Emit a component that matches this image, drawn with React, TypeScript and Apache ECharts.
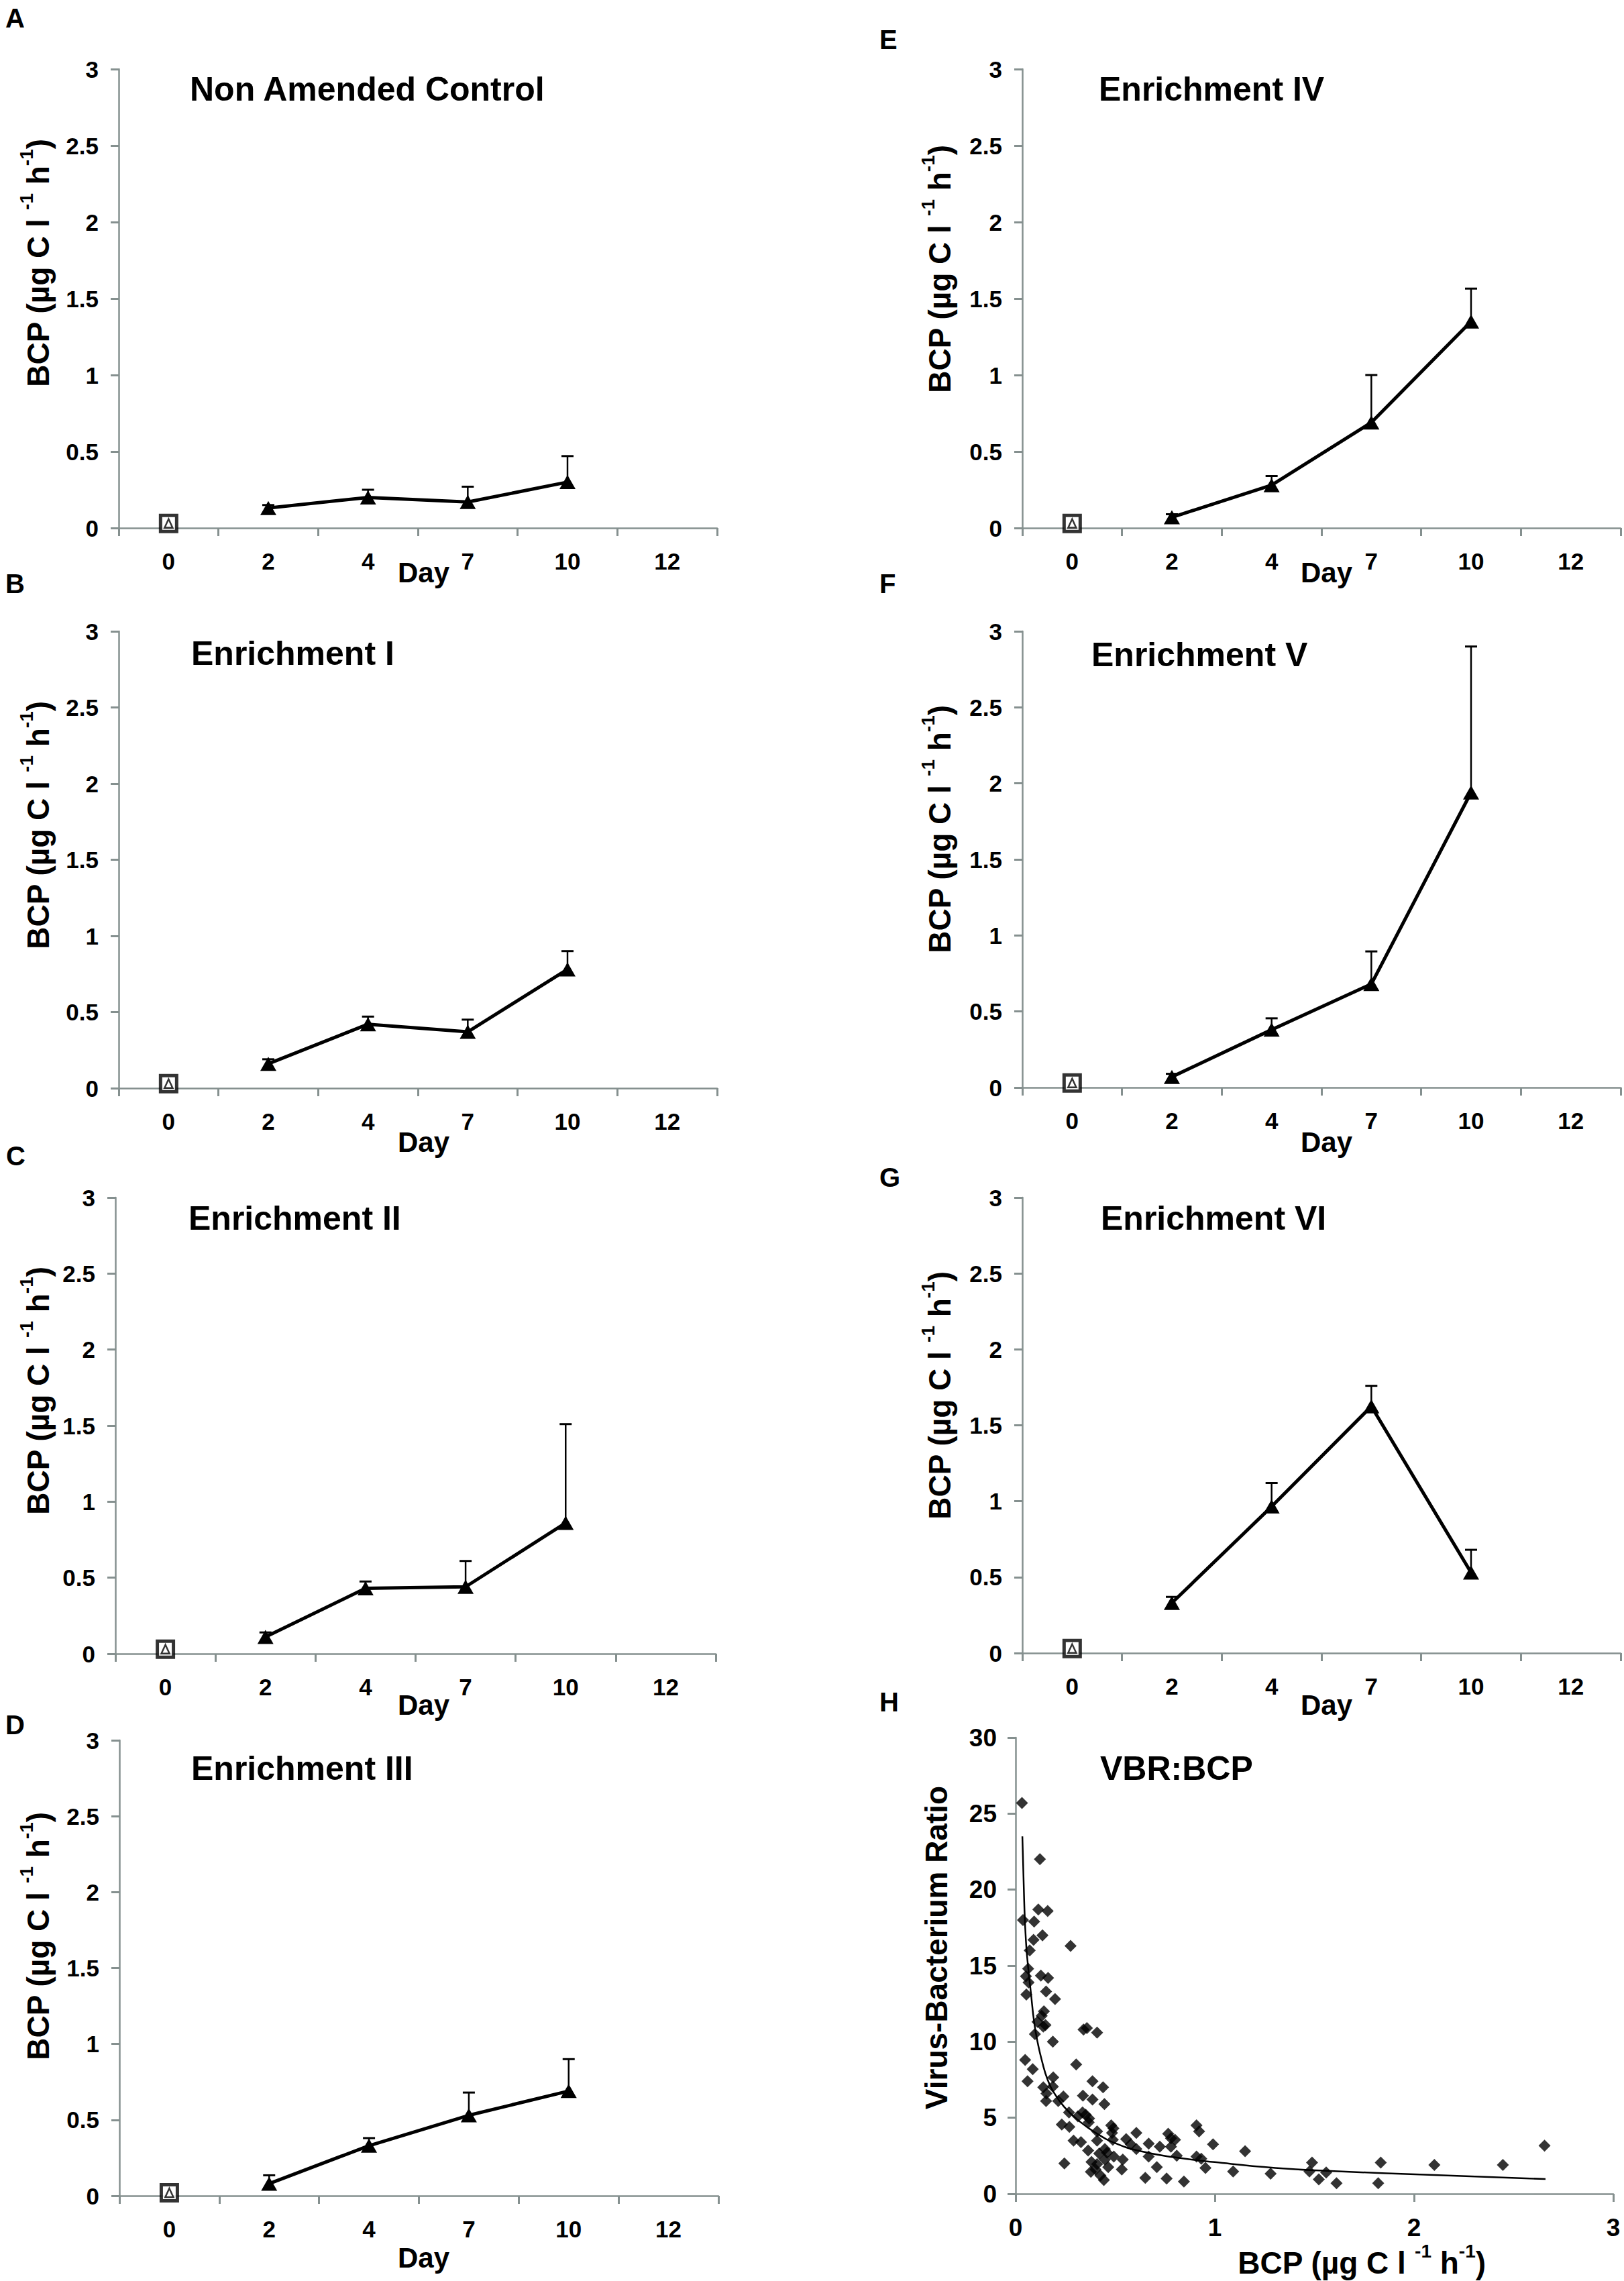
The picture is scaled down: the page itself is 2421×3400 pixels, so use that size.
import React, { useEffect, useRef } from 'react';
import * as echarts from 'echarts';

const FONT = "'Liberation Sans', Arial, Helvetica, sans-serif";
const AXIS_COLOR = '#85908f';

// ---------- data ----------
const DAYS = ['0', '2', '4', '7', '10', '12'];
const LINE_DAYS = ['2', '4', '7', '10'];
const LETTERS = ['A', 'B', 'C', 'D', 'E', 'F', 'G', 'H'];
const TITLES = [
  'Non Amended Control', 'Enrichment I', 'Enrichment II', 'Enrichment III',
  'Enrichment IV', 'Enrichment V', 'Enrichment VI', 'VBR:BCP',
];
const BCP_MIN = 0;
const BCP_MAX = 3;
const BCP_STEP = 0.5;
const DAY0_VALUES = [0.03, 0.03, 0.03, 0.02, 0.03, 0.03, 0.03];

const controlMean = [0.13, 0.2, 0.17, 0.3];
const controlUpper = [0.15, 0.25, 0.27, 0.47];
const enr1Mean = [0.16, 0.42, 0.37, 0.78];
const enr1Upper = [0.19, 0.47, 0.45, 0.9];
const enr2Mean = [0.11, 0.43, 0.44, 0.86];
const enr2Upper = [0.14, 0.475, 0.61, 1.51];
const enr3Mean = [0.08, 0.33, 0.53, 0.69];
const enr3Upper = [0.135, 0.38, 0.68, 0.9];
const enr4Mean = [0.07, 0.28, 0.69, 1.35];
const enr4Upper = [0.09, 0.34, 1.0, 1.565];
const enr5Mean = [0.07, 0.38, 0.68, 1.94];
const enr5Upper = [0.09, 0.455, 0.895, 2.9];
const enr6Mean = [0.33, 0.965, 1.625, 0.53];
const enr6Upper = [0.37, 1.12, 1.76, 0.68];

const MEANS = [controlMean, enr1Mean, enr2Mean, enr3Mean, enr4Mean, enr5Mean, enr6Mean];
const UPPERS = [controlUpper, enr1Upper, enr2Upper, enr3Upper, enr4Upper, enr5Upper, enr6Upper];

const VBR_X_MAX = 3;
const VBR_X_STEP = 1;
const VBR_Y_MAX = 30;
const VBR_Y_STEP = 5;

const vbrPoints = [
  [0.032, 25.7], [0.122, 22.0], [0.114, 18.7], [0.161, 18.6], [0.037, 18.0], [0.093, 17.9],
  [0.135, 17.0], [0.09, 16.7], [0.276, 16.3], [0.071, 16.0], [0.063, 14.8], [0.052, 14.3],
  [0.127, 14.35], [0.163, 14.2], [0.065, 13.9], [0.054, 13.1], [0.153, 13.3], [0.198, 12.8],
  [0.142, 12.0], [0.131, 11.7], [0.11, 11.3], [0.15, 11.1], [0.139, 11.0], [0.097, 10.5],
  [0.187, 10.0], [0.341, 10.8], [0.358, 10.9], [0.409, 10.6], [0.048, 8.8], [0.086, 8.2],
  [0.304, 8.5], [0.06, 7.4], [0.189, 7.65], [0.386, 7.4], [0.439, 7.0], [0.139, 7.0],
  [0.187, 7.05], [0.155, 6.6], [0.153, 6.1], [0.24, 6.4], [0.214, 6.1], [0.338, 6.45],
  [0.386, 6.2], [0.446, 5.9], [0.268, 5.35], [0.313, 5.1], [0.336, 5.35], [0.352, 5.2],
  [0.369, 4.95], [0.367, 4.7], [0.232, 4.55], [0.27, 4.4], [0.409, 4.1], [0.48, 4.5],
  [0.491, 4.3], [0.484, 4.0], [0.606, 4.0], [0.291, 3.5], [0.328, 3.4], [0.409, 3.5],
  [0.488, 3.55], [0.555, 3.6], [0.578, 3.25], [0.606, 2.95], [0.668, 3.3], [0.724, 3.1],
  [0.766, 3.95], [0.78, 3.65], [0.8, 3.55], [0.78, 3.1], [0.908, 4.5], [0.921, 4.1],
  [0.991, 3.25], [1.152, 2.8], [0.364, 2.85], [0.448, 2.95], [0.459, 2.7], [0.42, 2.65],
  [0.493, 2.45], [0.538, 2.25], [0.381, 2.1], [0.409, 1.95], [0.448, 2.25], [0.245, 2.0],
  [0.465, 1.75], [0.533, 1.6], [0.378, 1.45], [0.401, 1.6], [0.426, 1.2], [0.443, 0.9],
  [0.668, 2.45], [0.709, 1.75], [0.809, 2.5], [0.908, 2.45], [0.932, 2.3], [0.953, 1.7],
  [0.651, 1.05], [0.758, 1.0], [0.845, 0.8], [1.092, 1.47], [1.28, 1.32], [1.488, 2.05],
  [1.475, 1.47], [1.522, 0.95], [1.559, 1.4], [1.611, 0.7], [1.833, 2.05], [1.82, 0.7],
  [2.102, 1.9], [2.446, 1.9], [2.655, 3.17],
];

const vbrTrend = [
  [0.034, 23.5], [0.043, 19.3], [0.052, 16.6], [0.063, 14.9], [0.077, 13.2], [0.093, 11.3],
  [0.11, 10.0], [0.133, 8.7], [0.161, 7.5], [0.195, 6.6], [0.245, 5.7], [0.313, 4.85],
  [0.403, 4.0], [0.505, 3.3], [0.628, 2.8], [0.797, 2.4], [1.0, 2.08], [1.304, 1.7],
  [1.58, 1.5], [2.1, 1.23], [2.66, 0.97],
];

// ---------- layout ----------
const GRIDS = [
  { left: 177, top: 103, width: 892, height: 684 },
  { left: 177, top: 941, width: 892, height: 681 },
  { left: 172, top: 1785, width: 895, height: 680 },
  { left: 178, top: 2594, width: 893, height: 679 },
  { left: 1524, top: 103, width: 892, height: 684 },
  { left: 1524, top: 941, width: 892, height: 680 },
  { left: 1524, top: 1785, width: 892, height: 679 },
  { left: 1514, top: 2590, width: 891, height: 680 },
];
const LETTER_POS = [[8, 27], [8, 870], [9, 1723], [8, 2571], [1311, 59], [1311, 870], [1311, 1755], [1311, 2537]];
const TITLE_POS = [[283, 133], [285, 974], [281, 1816], [285, 2636], [1638, 133], [1627, 976], [1641, 1816], [1640, 2636]];
const DAY_POS = [[593, 853], [593, 1702], [593, 2541], [593, 3365], [1939, 853], [1939, 1702], [1939, 2541]];
const YNAME_POS = [[57, 392], [57, 1230], [57, 2073], [57, 2886], [1401, 401], [1401, 1236], [1401, 2080]];
const H_YNAME_POS = [1396, 2903];
const H_XNAME_POS = [2030, 3373];

const UNIT_TEXT = '{b|BCP (µg C l }{s|-1}{b| h}{s|-1}{b|)}';
const UNIT_RICH = {
  b: { fontSize: 46, fontWeight: 'bold', fontFamily: FONT, fill: '#000', lineHeight: 64 },
  s: { fontSize: 28, fontWeight: 'bold', fontFamily: FONT, fill: '#000', verticalAlign: 'top' },
};

const axisLine = { show: true, lineStyle: { color: AXIS_COLOR, width: 2.5 } };
const axisTick = { show: true, inside: false, length: 12, lineStyle: { color: AXIS_COLOR, width: 3 } };
const labelStyle = (size: number, margin: number) => ({
  show: true, color: '#000', fontFamily: FONT, fontWeight: 'bold', fontSize: size, margin,
});

function buildOption() {
  const grid: any[] = GRIDS.map((g) => ({ ...g, containLabel: false, outerBoundsMode: 'none' }));
  const xAxis: any[] = [];
  const yAxis: any[] = [];
  const series: any[] = [];
  const graphic: any[] = [];

  for (let i = 0; i < 7; i++) {
    xAxis.push({
      type: 'category', gridIndex: i, data: DAYS, boundaryGap: true,
      axisLine, axisTick: { ...axisTick, alignWithLabel: false, interval: 0 },
      axisLabel: { ...labelStyle(35, 32), interval: 0 }, splitLine: { show: false },
    });
    yAxis.push({
      type: 'value', gridIndex: i, min: BCP_MIN, max: BCP_MAX, interval: BCP_STEP,
      axisLine, axisTick, axisLabel: labelStyle(35, 30), splitLine: { show: false },
    });
    const mean = MEANS[i];
    const upper = UPPERS[i];
    series.push({
      type: 'custom', xAxisIndex: i, yAxisIndex: i, z: 2, silent: true,
      data: LINE_DAYS.map((d, j) => [DAYS.indexOf(d), mean[j], upper[j]]),
      encode: { x: 0, y: [1, 2] },
      renderItem: (params: any, api: any) => {
        const x = api.value(0);
        const p0 = api.coord([x, api.value(1)]);
        const p1 = api.coord([x, api.value(2)]);
        return {
          type: 'group',
          children: [
            { type: 'line', shape: { x1: p0[0], y1: p0[1], x2: p1[0], y2: p1[1] }, style: { stroke: '#000', lineWidth: 2.5 } },
            { type: 'line', shape: { x1: p1[0] - 9, y1: p1[1], x2: p1[0] + 9, y2: p1[1] }, style: { stroke: '#000', lineWidth: 3 } },
          ],
        };
      },
    });
    series.push({
      type: 'line', xAxisIndex: i, yAxisIndex: i, z: 3,
      data: DAYS.map((d) => {
        const j = LINE_DAYS.indexOf(d);
        return j >= 0 ? mean[j] : null;
      }),
      connectNulls: false,
      symbol: 'triangle', symbolSize: [24, 21], showSymbol: true,
      itemStyle: { color: '#000' },
      lineStyle: { color: '#000', width: 5 },
    });
    series.push({
      type: 'scatter', xAxisIndex: i, yAxisIndex: i, z: 4,
      data: [[0, DAY0_VALUES[i]]], symbol: 'rect', symbolSize: 24,
      itemStyle: { color: '#fff', borderColor: '#000', borderWidth: 5 },
    });
    series.push({
      type: 'scatter', xAxisIndex: i, yAxisIndex: i, z: 5,
      data: [[0, DAY0_VALUES[i]]], symbol: 'triangle', symbolSize: [12, 13],
      itemStyle: { color: '#fff', borderColor: '#000', borderWidth: 2.5 },
    });

    graphic.push({
      type: 'text', x: DAY_POS[i][0], y: DAY_POS[i][1], silent: true,
      style: { text: 'Day', fontSize: 42, fontWeight: 'bold', fontFamily: FONT, fill: '#000', align: 'left', verticalAlign: 'middle' },
    });
    graphic.push({
      type: 'text', x: YNAME_POS[i][0], y: YNAME_POS[i][1], rotation: Math.PI / 2, silent: true,
      style: { text: UNIT_TEXT, rich: UNIT_RICH, fill: '#000', fontSize: 46, fontWeight: 'bold', fontFamily: FONT, align: 'center', verticalAlign: 'middle' },
    });
  }

  // Panel H
  xAxis.push({
    type: 'value', gridIndex: 7, min: 0, max: VBR_X_MAX, interval: VBR_X_STEP,
    axisLine, axisTick, axisLabel: labelStyle(37, 32), splitLine: { show: false },
  });
  yAxis.push({
    type: 'value', gridIndex: 7, min: 0, max: VBR_Y_MAX, interval: VBR_Y_STEP,
    axisLine, axisTick, axisLabel: labelStyle(37, 28), splitLine: { show: false },
  });
  series.push({
    type: 'scatter', xAxisIndex: 7, yAxisIndex: 7, z: 3,
    data: vbrPoints, symbol: 'diamond', symbolSize: 18,
    itemStyle: { color: '#000' },
  });
  series.push({
    type: 'line', xAxisIndex: 7, yAxisIndex: 7, z: 4,
    data: vbrTrend, smooth: true, showSymbol: false, symbol: 'none',
    lineStyle: { color: '#000', width: 2.5 },
  });
  graphic.push({
    type: 'text', x: H_YNAME_POS[0], y: H_YNAME_POS[1], rotation: Math.PI / 2, silent: true,
    style: { text: 'Virus-Bacterium Ratio', fontSize: 46, fontWeight: 'bold', fontFamily: FONT, fill: '#000', align: 'center', verticalAlign: 'middle' },
  });
  graphic.push({
    type: 'text', x: H_XNAME_POS[0], y: H_XNAME_POS[1], silent: true,
    style: { text: UNIT_TEXT, rich: UNIT_RICH, fill: '#000', fontSize: 46, fontWeight: 'bold', fontFamily: FONT, align: 'center', verticalAlign: 'middle' },
  });

  for (let i = 0; i < 8; i++) {
    graphic.push({
      type: 'text', x: LETTER_POS[i][0], y: LETTER_POS[i][1], silent: true,
      style: { text: LETTERS[i], fontSize: 40, fontWeight: 'bold', fontFamily: FONT, fill: '#000', align: 'left', verticalAlign: 'middle' },
    });
    graphic.push({
      type: 'text', x: TITLE_POS[i][0], y: TITLE_POS[i][1], silent: true,
      style: { text: TITLES[i], fontSize: 50, fontWeight: 'bold', fontFamily: FONT, fill: '#000', align: 'left', verticalAlign: 'middle' },
    });
  }

  return {
    animation: false,
    backgroundColor: '#ffffff',
    textStyle: { fontFamily: FONT },
    grid, xAxis, yAxis, series, graphic,
  };
}

export default function App() {
  const ref = useRef<HTMLDivElement>(null);
  useEffect(() => {
    if (!ref.current) return;
    const chart = echarts.init(ref.current, undefined, { renderer: 'svg' });
    chart.setOption(buildOption() as any);
    return () => chart.dispose();
  }, []);
  return (
    <div
      ref={ref}
      style={{ position: 'absolute', left: 0, top: 0, width: 2421, height: 3400, background: '#fff' }}
    />
  );
}
